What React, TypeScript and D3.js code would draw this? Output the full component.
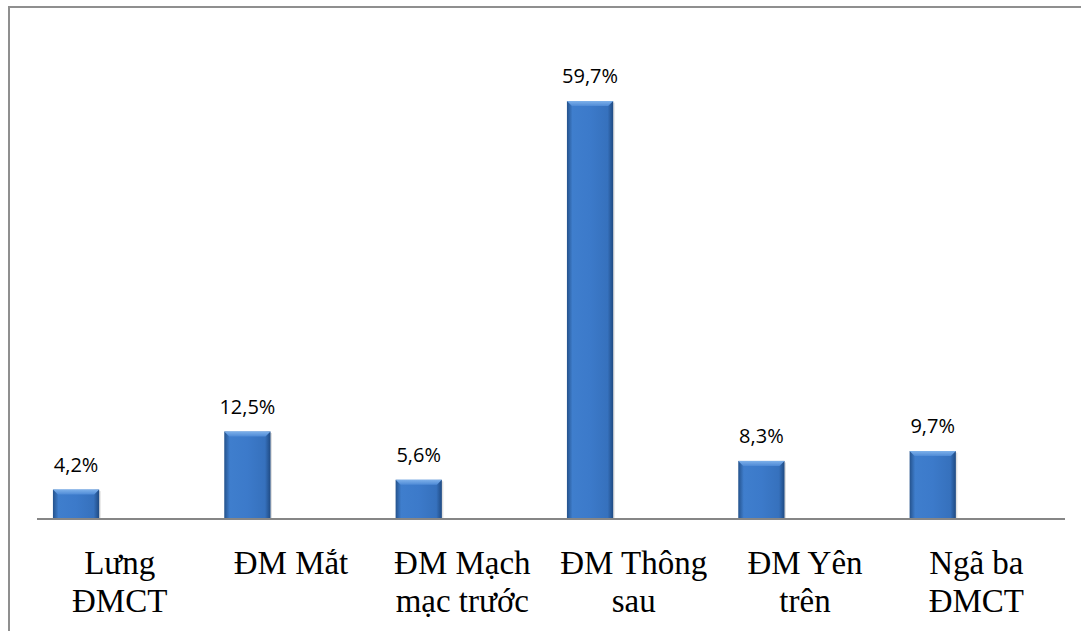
import React, { useEffect, useRef } from "react";
import * as d3 from "d3";

const categories = [
  ["Lưng", "ĐMCT"],
  ["ĐM Mắt"],
  ["ĐM Mạch", "mạc trước"],
  ["ĐM Thông", "sau"],
  ["ĐM Yên", "trên"],
  ["Ngã ba", "ĐMCT"],
];
const values = [4.2, 12.5, 5.6, 59.7, 8.3, 9.7];
const valueLabels = ["4,2%", "12,5%", "5,6%", "59,7%", "8,3%", "9,7%"];

const W = 1081;
const H = 631;
const margin = { left: 37, right: 16, top: 29, axisY: 519 };

export default function App() {
  const svgRef = useRef<SVGSVGElement>(null);

  useEffect(() => {
    const svg = d3.select(svgRef.current);
    svg.selectAll("*").remove();

    const keys = categories.map((c) => c.join(" "));
    const x = d3
      .scaleBand<string>()
      .domain(keys)
      .range([margin.left, W - margin.right])
      .padding(0);
    const y = d3.scaleLinear().domain([0, 70]).range([margin.axisY, margin.top]);
    const bw = x.bandwidth();
    const barW = bw * 0.27;
    const barOff = bw * 0.093;
    const bevel = 5;

    const defs = svg.append("defs");
    const g1 = defs.append("linearGradient").attr("id", "barGrad").attr("x1", 0).attr("x2", 1).attr("y1", 0).attr("y2", 0);
    [
      ["0%", "#24528c"],
      ["12%", "#3f7ecd"],
      ["50%", "#3c7aca"],
      ["88%", "#3671bd"],
      ["100%", "#1f4a82"],
    ].forEach(([o, c]) => g1.append("stop").attr("offset", o).attr("stop-color", c));
    const g2 = defs.append("linearGradient").attr("id", "topGrad").attr("x1", 0).attr("x2", 0).attr("y1", 0).attr("y2", 1);
    g2.append("stop").attr("offset", "0%").attr("stop-color", "#7db0ea");
    g2.append("stop").attr("offset", "100%").attr("stop-color", "#4e8ad6");

    // frame, runs off the right and bottom edge
    svg
      .append("path")
      .attr("d", `M9,${H + 5} V7 H${W + 5}`)
      .attr("fill", "none")
      .attr("stroke", "#8f8f8f")
      .attr("stroke-width", 2);

    const bars = svg.append("g").selectAll("g").data(values).join("g");
    bars
      .append("rect")
      .attr("x", (d, i) => (x(keys[i]) as number) + barOff + 1.5)
      .attr("y", (d) => y(d) + 1.5)
      .attr("width", barW)
      .attr("height", (d) => margin.axisY - y(d) - 1.5)
      .attr("fill", "#000")
      .attr("opacity", 0.12);
    bars
      .append("rect")
      .attr("x", (d, i) => (x(keys[i]) as number) + barOff)
      .attr("y", (d) => y(d))
      .attr("width", barW)
      .attr("height", (d) => margin.axisY - y(d))
      .attr("fill", "url(#barGrad)");
    bars
      .append("polygon")
      .attr("points", (d, i) => {
        const x0 = (x(keys[i]) as number) + barOff;
        const y0 = y(d);
        return `${x0},${y0} ${x0 + barW},${y0} ${x0 + barW - bevel},${y0 + bevel} ${x0 + bevel},${y0 + bevel}`;
      })
      .attr("fill", "url(#topGrad)");

    svg
      .append("g")
      .selectAll("text")
      .data(values)
      .join("text")
      .attr("x", (d, i) => (x(keys[i]) as number) + barOff + barW / 2)
      .attr("y", (d) => y(d) - 18)
      .attr("text-anchor", "middle")
      .attr("font-family", "Open Sans")
      .attr("font-size", 20)
      .text((d, i) => valueLabels[i]);

    svg
      .append("line")
      .attr("x1", margin.left)
      .attr("x2", W - margin.right)
      .attr("y1", margin.axisY)
      .attr("y2", margin.axisY)
      .attr("stroke", "#868686")
      .attr("stroke-width", 2);

    const cat = svg
      .append("g")
      .attr("font-family", "Liberation Serif")
      .attr("font-size", 33)
      .attr("text-anchor", "middle");
    categories.forEach((lines, i) => {
      lines.forEach((l, j) => {
        cat
          .append("text")
          .attr("x", (x(keys[i]) as number) + bw / 2 - 3)
          .attr("y", 574 + j * 38)
          .text(l);
      });
    });
  }, []);

  return (
    <svg
      ref={svgRef}
      width={W}
      height={H}
      style={{ position: "absolute", left: 0, top: 0 }}
    />
  );
}
